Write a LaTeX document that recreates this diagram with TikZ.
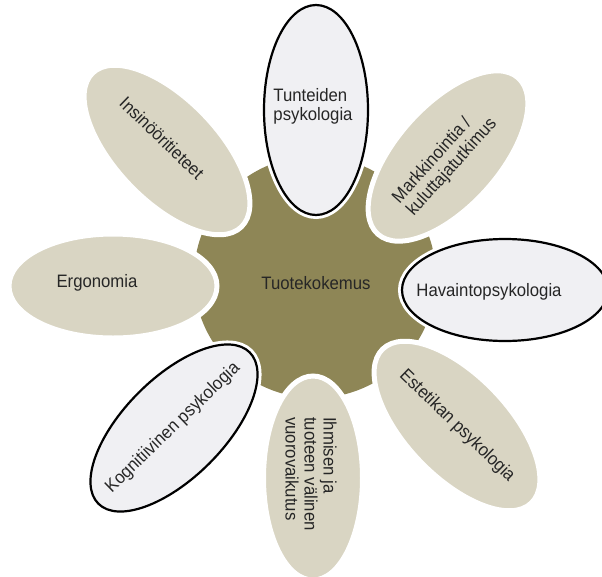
\documentclass[tikz,border=0pt]{standalone}
\usepackage{fontspec}
\setmainfont[FakeStretch=0.93]{Liberation Sans}
\usetikzlibrary{shapes.geometric}
\definecolor{hubcol}{HTML}{8E8656}
\definecolor{tancol}{HTML}{D9D5C3}
\definecolor{lightcol}{HTML}{F0F0F3}
\definecolor{txtcol}{HTML}{262626}
\begin{document}
\begin{tikzpicture}[x=1pt,y=-1pt,
  petal/.style={ellipse, inner sep=0pt, fill=tancol, draw=white, line width=5pt},
  lpetal/.style={ellipse, inner sep=0pt, fill=lightcol, draw=black, line width=2.2pt,
                 preaction={draw=white, line width=8pt}},
  lbl/.style={text=txtcol, font=\fontsize{18}{19}\selectfont, inner sep=0pt, align=center}]
\useasboundingbox (0,0) rectangle (602,576);
\fill[white] (0,0) rectangle (602,576);
\node[circle, fill=hubcol, minimum size=242pt, inner sep=0pt] (hub) at (315,277) {};
% petals
\node[lpetal, minimum width=210pt, minimum height=104pt, rotate=90] (p1) at (316,110) {};
\node[petal, minimum width=210pt, minimum height=102pt, rotate=48] (p2) at (448,156) {};
\node[lpetal, minimum width=206pt, minimum height=102pt] (p3) at (505,290) {};
\node[petal, minimum width=214pt, minimum height=102pt, rotate=-46] (p4) at (457,426) {};
\node[petal, minimum width=204pt, minimum height=99pt, rotate=-90] (p5) at (313,478) {};
\node[lpetal, minimum width=214pt, minimum height=100pt, rotate=45] (p6) at (174,428) {};
\node[petal, minimum width=208pt, minimum height=104pt] (p7) at (113,286) {};
\node[petal, minimum width=214pt, minimum height=102pt, rotate=-46] (p8) at (167,150) {};
% labels
\node[lbl] (t0) at (316,283) {Tuotekokemus};
\node[lbl, align=left] (t1) at (313,106) {Tunteiden\\psykologia};
\node[lbl, align=left, rotate=48] (t2) at (445,161) {Markkinointia /\\kuluttajatutkimus};
\node[lbl] (t3) at (489,292) {Havaintopsykologia};
\node[lbl, rotate=-44] (t4) at (457,426) {Estetikan psykologia};
\node[lbl, rotate=-90, anchor=west, align=left] (t5) at (311,417) {Ihmisen ja\\tuoteen välinen\\vuorovaikutus};
\node[lbl, rotate=44] (t6) at (173,428) {Kognitiivinen psykologia};
\node[lbl] (t7) at (97,283) {Ergonomia};
\node[lbl, rotate=-44] (t8) at (162,138) {Insinööritieteet};
\end{tikzpicture}
\end{document}
